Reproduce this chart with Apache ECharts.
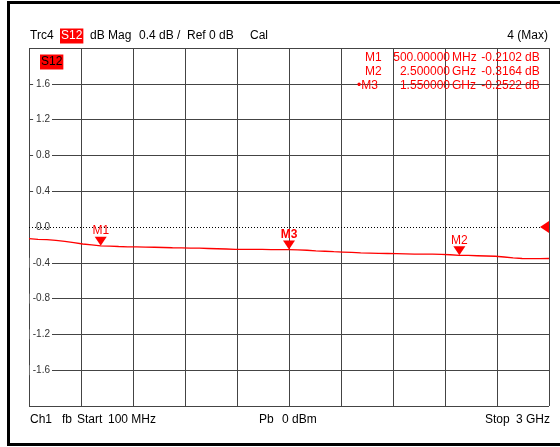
<!DOCTYPE html>
<html>
<head>
<meta charset="utf-8">
<script src="https://cdn.jsdelivr.net/npm/echarts@6/dist/echarts.min.js"></script>
<style>html,body{margin:0;padding:0;background:#fff}#c{width:560px;height:447px}</style>
</head>
<body>
<div id="c"></div>
<script>
// Frequency (MHz)
const freqMHz = [100,150,200,250,300,350,400,450,500,550,600,650,700,750,800,850,900,950,1000,1050,1100,1150,1200,1250,1300,1350,1400,1450,1500,1550,1600,1650,1700,1750,1800,1850,1900,1950,2000,2050,2100,2150,2200,2250,2300,2350,2400,2450,2500,2550,2600,2650,2700,2750,2800,2850,2900,2950,3000];
// S12 magnitude (dB)
const s12dB = [-0.130,-0.138,-0.142,-0.150,-0.160,-0.175,-0.190,-0.200,-0.210,-0.214,-0.218,-0.221,-0.223,-0.225,-0.226,-0.229,-0.232,-0.234,-0.236,-0.237,-0.240,-0.243,-0.246,-0.249,-0.250,-0.250,-0.251,-0.252,-0.252,-0.252,-0.255,-0.260,-0.266,-0.271,-0.276,-0.280,-0.284,-0.288,-0.291,-0.294,-0.296,-0.298,-0.300,-0.302,-0.303,-0.304,-0.305,-0.310,-0.316,-0.318,-0.321,-0.324,-0.327,-0.335,-0.345,-0.352,-0.354,-0.353,-0.352];
// Markers
const markerNames = ['M1','M2','M3'];
const markerFreqMHz = [500,2500,1550];
const markerValues = [-0.2102,-0.3164,-0.2522];
const markerFreqText = ['500.00000','2.500000','1.550000'];
const markerUnitText = ['MHz','GHz','GHz'];
// Y axis
const yMin = -2.0, yMax = 2.0, yStep = 0.4;
const startMHz = 100, stopMHz = 3000;

const FONT = 'Liberation Sans, Arial, sans-serif';
const RED = '#ff0000';
const GRID = '#444444';

const chart = echarts.init(document.getElementById('c'), null, {renderer:'canvas'});

// split line colors: hide 0.0 line (drawn dotted instead)
const nLines = Math.round((yMax - yMin)/yStep) + 1;
const yLineColors = [];
for (let i = 0; i < nLines; i++) {
  const v = yMin + i*yStep;
  yLineColors.push(Math.abs(v) < 1e-9 ? 'rgba(0,0,0,0)' : GRID);
}

const markData = markerNames.map((n,i) => ({
  name: n,
  coord: [markerFreqMHz[i], markerValues[i]],
  symbol: 'triangle',
  symbolRotate: 180,
  symbolSize: [12, 9],
  symbolOffset: [0, -4.5],
  label: {
    show: true, formatter: n, position: 'top', distance: 0,
    color: RED, fontSize: 12, fontFamily: FONT,
    fontWeight: n === 'M3' ? 'bold' : 'normal'
  },
  itemStyle: {color: RED}
}));
markData.push({
  name: 'ref',
  coord: [stopMHz, 0],
  symbol: 'triangle',
  symbolRotate: 90,
  symbolSize: [12, 9],
  symbolOffset: [-4.5, 0],
  label: {show: false},
  itemStyle: {color: RED}
});

const textEls = [];
function txt(x, y, s, opt) {
  textEls.push(Object.assign({
    type: 'text', x: x, y: y, z: 100,
    style: Object.assign({text: s, font: '12px ' + FONT, fill: '#000', textVerticalAlign: 'middle'}, opt || {})
  }));
}
// header
txt(30, 36, 'Trc4');
txt(60, 36, 'S12', {fill: '#fff', backgroundColor: RED, padding: [2, 1, 1, 1]});
txt(90, 36, 'dB Mag');
txt(139, 36, '0.4 dB /');
txt(187, 36, 'Ref 0 dB');
txt(250, 36, 'Cal');
txt(548, 36, '4 (Max)', {textAlign: 'right'});
// in-plot trace label
txt(40, 62, 'S12', {fill: '#000', backgroundColor: RED, padding: [2, 1, 1, 1]});
// marker table
const rowY = [58, 71.5, 86];
const order = [0, 1, 2];
order.forEach((i, r) => {
  const y = rowY[r];
  txt(i === 2 ? 357 : 365, y, (i === 2 ? '\u2022' : '') + markerNames[i], {fill: RED});
  txt(450, y, markerFreqText[i], {fill: RED, textAlign: 'right'});
  txt(452, y, markerUnitText[i], {fill: RED});
  txt(522, y, markerValues[i].toFixed(4), {fill: RED, textAlign: 'right'});
  txt(525, y, 'dB', {fill: RED});
});
// footer
txt(30, 420, 'Ch1');
txt(62, 420, 'fb');
txt(77, 420, 'Start');
txt(108, 420, '100 MHz');
txt(259, 420, 'Pb');
txt(282, 420, '0 dBm');
txt(485, 420, 'Stop');
txt(516, 420, '3 GHz');

const option = {
  animation: false,
  backgroundColor: '#fff',
  grid: {left: 29, right: 11, top: 48, bottom: 41, containLabel: false},
  xAxis: [
    {type: 'value', min: 0, max: 10, interval: 1,
     axisLine: {show: false}, axisTick: {show: false}, axisLabel: {show: false},
     splitLine: {show: true, lineStyle: {color: GRID, width: 1}}},
    {type: 'value', min: startMHz, max: stopMHz, show: false, splitLine: {show: false}}
  ],
  yAxis: {
    type: 'value', min: yMin, max: yMax, interval: yStep,
    axisLine: {show: false}, axisTick: {show: false},
    axisLabel: {
      inside: true, margin: 23, align: 'right',
      color: '#333', fontSize: 10, fontFamily: FONT,
      backgroundColor: '#fff', padding: [0, 2, 0, 3],
      formatter: v => (Math.abs(Math.abs(v) - 2) < 1e-9) ? '' : v.toFixed(1)
    },
    splitLine: {show: true, lineStyle: {color: yLineColors, width: 1}}
  },
  series: [{
    type: 'line', xAxisIndex: 1,
    data: freqMHz.map((f, i) => [f, s12dB[i]]),
    symbol: 'none', lineStyle: {color: RED, width: 1.3},
    markLine: {
      silent: true, symbol: 'none', label: {show: false},
      lineStyle: {color: '#000', type: [1, 2], width: 1},
      data: [{yAxis: 0}]
    },
    markPoint: {data: markData}
  }],
  graphic: textEls.concat([
    {type: 'rect', z: 100, shape: {x: 8.5, y: 2.5, width: 600, height: 442},
     style: {fill: null, stroke: '#000', lineWidth: 3}}
  ])
};
chart.setOption(option);
</script>
</body>
</html>
